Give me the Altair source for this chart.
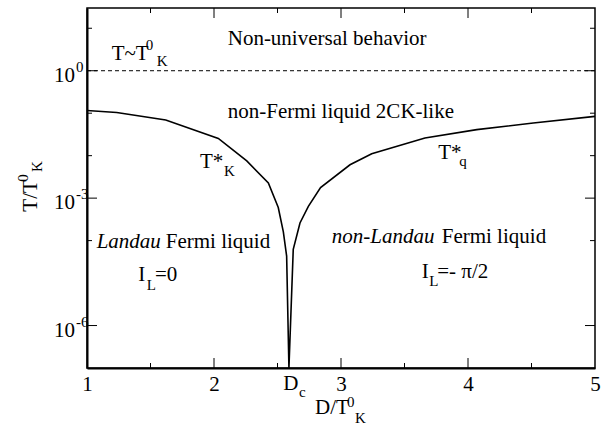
import altair as alt
import pandas as pd

FONT = "'Liberation Serif', 'Times New Roman', Times, serif"

# ---- crossover curve T*(D): left branch T*_K, right branch T*_q ----
d_vals = [1.0, 1.234, 1.62, 2.034, 2.258, 2.428, 2.506, 2.546, 2.572, 2.59,
          2.624, 2.677, 2.743, 2.839, 3.071, 3.242, 3.661, 4.069, 4.514, 5.0]
t_vals = [0.116, 0.104, 0.069, 0.0255, 0.0075, 2.28e-3, 6.0e-4, 1.6e-4, 4.3e-5, 1e-7,
          6.2e-5, 2.6e-4, 6.4e-4, 1.77e-3, 6.1e-3, 0.0111, 0.026, 0.041, 0.0588, 0.084]

# ---- axes ----
x_tick_labels = [1, 2, 3, 4, 5]
x_major_ticks = [2, 3, 4]
x_minor_ticks = [1.5, 2.5, 3.5, 4.5]
y_major_ticks = [1, 1e-3, 1e-6]
y_exponents = ["0", "-3", "-6"]
y_minor_ticks = [10, 0.1, 0.01, 1e-4]
dashed_level = [1.0]

# ---- annotations (data coordinates) ----
main_texts = ["Non-universal behavior", "non-Fermi liquid 2CK-like", "T~T", "T*", "T*",
              "Fermi liquid", "I", "=0", "Fermi liquid", "I", "=- \u03c0/2"]
main_x = [2.108, 2.108, 1.194, 1.890, 3.766, 1.620, 1.404, 1.535, 3.793, 3.635, 3.758]
main_y = [4.09, 0.077, 1.81, 5.14e-3, 8.5e-3, 6.73e-5, 1.10e-5, 1.10e-5, 8.83e-5, 1.32e-5, 1.32e-5]

small_texts = ["0", "K", "K", "q", "L", "L"]
small_x = [1.462, 1.549, 2.079, 3.931, 1.470, 3.695]
small_y = [3.12, 1.26, 3.26e-3, 5.66e-3, 7.03e-6, 8.73e-6]

italic_texts = ["Landau", "non-Landau"]
italic_x = [1.076, 2.927]
italic_y = [6.73e-5, 8.83e-5]

W, H = 508, 360
xscale = alt.Scale(domain=[1, 5], nice=False, zero=False)
yscale = alt.Scale(type="log", domain=[1e-7, 30], nice=False)

x_axis = alt.Axis(values=x_tick_labels, format="d", ticks=False, tickSize=0,
                  grid=False, domainColor="black", domainWidth=2,
                  labelFont=FONT, labelFontSize=21, labelColor="black",
                  labelPadding=5, labelFlush=False, title=None)
y_axis = alt.Axis(labels=False, ticks=False, tickSize=0, grid=False,
                  domainColor="black", domainWidth=2, title=None)

def X(f):
    return alt.X(f, scale=xscale, axis=x_axis)

def Y(f):
    return alt.Y(f, scale=yscale, axis=y_axis)

curve = pd.DataFrame({"d": d_vals, "t": t_vals})

line = alt.Chart(curve).mark_line(color="black", strokeWidth=1.6).encode(
    x=X("d:Q"), y=Y("t:Q"))

dashed = alt.Chart(pd.DataFrame({"t": dashed_level})).mark_rule(
    color="black", strokeWidth=1, strokeDash=[4, 3]
).encode(y=Y("t:Q"))

def xticks(vals, length):
    df = pd.DataFrame({"v": vals})
    bottom = alt.Chart(df).mark_rule(color="black", strokeWidth=1).encode(
        x=X("v:Q"), y=alt.value(H), y2=alt.value(H - length))
    top = alt.Chart(df).mark_rule(color="black", strokeWidth=1).encode(
        x=X("v:Q"), y=alt.value(0), y2=alt.value(length))
    return [bottom, top]

def yticks(vals, length):
    df = pd.DataFrame({"v": vals})
    left = alt.Chart(df).mark_rule(color="black", strokeWidth=1).encode(
        y=Y("v:Q"), x=alt.value(0), x2=alt.value(length))
    right = alt.Chart(df).mark_rule(color="black", strokeWidth=1).encode(
        y=Y("v:Q"), x=alt.value(W), x2=alt.value(W - length))
    return [left, right]

ylab_df = pd.DataFrame({"v": y_major_ticks, "e": y_exponents})
ylab_ten = alt.Chart(ylab_df).mark_text(
    font=FONT, fontSize=21, align="right", baseline="alphabetic", dy=11, color="black"
).encode(y=Y("v:Q"), x=alt.value(-12), text=alt.value("10"))
ylab_exp = alt.Chart(ylab_df).mark_text(
    font=FONT, fontSize=15, align="left", baseline="alphabetic", dy=1, color="black"
).encode(y=Y("v:Q"), x=alt.value(-11), text="e:N")

def ann(texts, xs, ys, size, style="normal"):
    df = pd.DataFrame({"s": texts, "x": xs, "y": ys})
    return alt.Chart(df).mark_text(
        font=FONT, fontSize=size, fontStyle=style, align="left",
        baseline="alphabetic", color="black"
    ).encode(x=X("x:Q"), y=Y("y:Q"), text="s:N")

def label(s, px, py, size, angle=0):
    kw = dict(font=FONT, fontSize=size, align="left", baseline="alphabetic", color="black")
    if angle:
        kw["angle"] = angle
    return alt.Chart(pd.DataFrame({"s": [s]})).mark_text(**kw).encode(
        x=alt.value(px), y=alt.value(py), text="s:N")

titles = [
    label("D/T", 228, 406, 21), label("0", 260, 399, 15), label("K", 268, 414.5, 15),
    label("D", 196.3, 381.5, 21), label("c", 212, 389.3, 15),
    label("T/T", -50.3, 203.7, 21, 270), label("0", -59, 173.7, 15, 270),
    label("K", -45, 164, 15, 270),
]

layers = [line, dashed] + xticks(x_major_ticks, 10) + xticks(x_minor_ticks, 5) \
    + yticks(y_major_ticks, 10) + yticks(y_minor_ticks, 5) \
    + [ylab_ten, ylab_exp,
       ann(main_texts, main_x, main_y, 21),
       ann(small_texts, small_x, small_y, 15),
       ann(italic_texts, italic_x, italic_y, 21, "italic")] + titles

chart = alt.layer(*layers).properties(
    width=W, height=H,
    autosize=alt.AutoSizeParams(type="none"),
    padding={"left": 87, "top": 8, "right": 21, "bottom": 57},
    background="white",
).configure_view(stroke="black", strokeWidth=1.5)

chart.save("out.html", embed_options={"renderer": "svg", "actions": False})
